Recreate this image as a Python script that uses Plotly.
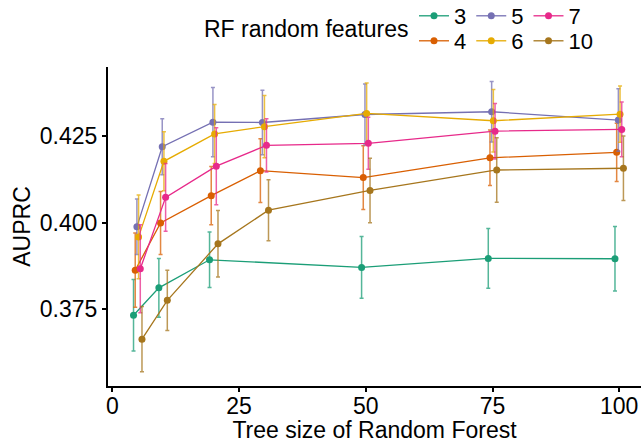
import plotly.graph_objects as go

# ---- data ----
tree_size = [5, 10, 20, 30, 50, 75, 100]
feature_levels = ["3", "4", "5", "6", "7", "10"]

auprc_3 = [0.3733, 0.3812, 0.3893, None, 0.3871, 0.3897, 0.3896]
auprc_4 = [0.3863, 0.3999, 0.4078, 0.4150, 0.4130, 0.4187, 0.4203]
auprc_5 = [0.3988, 0.4219, 0.4290, 0.4289, 0.4312, 0.4320, 0.4296]
auprc_6 = [0.3959, 0.4177, 0.4256, 0.4277, 0.4315, 0.4294, 0.4313]
auprc_7 = [0.3867, 0.4073, 0.4163, 0.4223, 0.4229, 0.4264, 0.4269]
auprc_10 = [0.3664, 0.3776, 0.3939, 0.4036, 0.4093, 0.4152, 0.4157]

err_3 = [0.0103, 0.0085, 0.0080, None, 0.0089, 0.0086, 0.0093]
err_4 = [0.0107, 0.0091, 0.0084, 0.0092, 0.0092, 0.0080, 0.0084]
err_5 = [0.0080, 0.0081, 0.0100, 0.0093, 0.0088, 0.0087, 0.0090]
err_6 = [0.0121, 0.0085, 0.0085, 0.0090, 0.0088, 0.0090, 0.0081]
err_7 = [0.0127, 0.0098, 0.0111, 0.0077, 0.0075, 0.0080, 0.0079]
err_10 = [0.0094, 0.0087, 0.0096, 0.0088, 0.0093, 0.0093, 0.0093]

x_ticks = [0, 25, 50, 75, 100]
y_ticks = [0.375, 0.400, 0.425]

colors = ["#1B9E77", "#D95F02", "#7570B3", "#E6AB02", "#E7298A", "#A6761D"]
err_colors = ["rgba(27,158,119,0.75)", "rgba(217,95,2,0.75)", "rgba(117,112,179,0.75)",
              "rgba(230,171,2,0.75)", "rgba(231,41,138,0.75)", "rgba(166,118,29,0.75)"]

values = [auprc_3, auprc_4, auprc_5, auprc_6, auprc_7, auprc_10]
errors = [err_3, err_4, err_5, err_6, err_7, err_10]

# position dodge (width 2) among the groups present at each tree size
dodge_width = 2.0
dodged_x = [[None] * len(tree_size) for _ in values]
for j, t in enumerate(tree_size):
    present = [i for i, v in enumerate(values) if v[j] is not None]
    n = len(present)
    for k, i in enumerate(present):
        dodged_x[i][j] = t + (k - (n - 1) / 2) * dodge_width / n

FONT = "Liberation Sans, Arial, sans-serif"
FS = 23
LFS = 22

fig = go.Figure()
legend_of = {"3": "legend", "5": "legend", "7": "legend",
             "4": "legend2", "6": "legend2", "10": "legend2"}
rank_of = {"3": 1, "5": 2, "7": 3, "4": 1, "6": 2, "10": 3}
for i, lvl in enumerate(feature_levels):
    xs = [x for x, v in zip(dodged_x[i], values[i]) if v is not None]
    ys = [v for v in values[i] if v is not None]
    es = [e for e, v in zip(errors[i], values[i]) if v is not None]
    fig.add_trace(go.Scatter(
        x=xs, y=ys, name=lvl, mode="lines+markers",
        line=dict(color=colors[i], width=1.3),
        marker=dict(color=colors[i], size=7),
        error_y=dict(type="data", array=es, visible=True,
                     color=err_colors[i], thickness=1.5, width=2),
        legend=legend_of[lvl], legendrank=rank_of[lvl],
    ))

axis_common = dict(showline=True, linecolor="black", linewidth=2,
                   ticks="outside", ticklen=4, tickwidth=1.5, tickcolor="black",
                   showgrid=False, zeroline=False,
                   tickfont=dict(family=FONT, size=FS, color="black"))

fig.update_layout(
    width=641, height=443,
    margin=dict(l=108, r=0, t=67, b=57),
    paper_bgcolor="white", plot_bgcolor="white",
    font=dict(family=FONT, size=FS, color="black"),
    xaxis=dict(range=[-0.87, 104.3], tickvals=x_ticks, ticktext=[str(v) for v in x_ticks],
               ticklabelstandoff=-6,
               title=dict(text="Tree size of Random Forest", standoff=3,
                          font=dict(family=FONT, size=FS, color="black")),
               **axis_common),
    yaxis=dict(range=[0.3529, 0.4449], tickvals=y_ticks,
               ticktext=["0.375", "0.400", "0.425"],
               title=dict(text="AUPRC", standoff=3,
                          font=dict(family=FONT, size=FS, color="black")),
               **axis_common),
    legend=dict(orientation="h", xref="container", yref="container",
                x=414 / 641, y=1 - 16 / 443, xanchor="left", yanchor="middle",
                font=dict(family=FONT, size=LFS), itemwidth=30,
                traceorder="normal", bgcolor="rgba(0,0,0,0)"),
    legend2=dict(orientation="h", xref="container", yref="container",
                 x=414 / 641, y=1 - 41 / 443, xanchor="left", yanchor="middle",
                 font=dict(family=FONT, size=LFS), itemwidth=30,
                 traceorder="normal", bgcolor="rgba(0,0,0,0)"),
    annotations=[dict(text="RF random features", xref="paper", yref="paper",
                      x=(411 - 108) / 533, y=1 + (67 - 29) / 320, xanchor="right", yanchor="middle",
                      showarrow=False, font=dict(family=FONT, size=FS, color="black"))],
)

fig.write_html("out.html")
